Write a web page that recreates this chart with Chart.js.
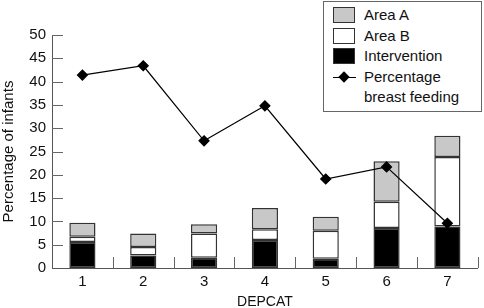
<!DOCTYPE html>
<html>
<head>
<meta charset="utf-8">
<script src="https://cdn.jsdelivr.net/npm/chart.js@4.4.0/dist/chart.umd.min.js"></script>
<style>
  body { margin: 0; background: #fff; }
  #wrap { position: relative; width: 484px; height: 308px; }
  #legend {
    position: absolute; left: 323px; top: 1px; width: 159px; height: 111px;
    box-sizing: border-box; border: 1px solid #666; background: #fff;
    font: 15px "Liberation Sans", Arial, sans-serif; color: #111;
    padding: 3px 0 0 9px; line-height: 20.5px;
  }
  .item { display: flex; align-items: flex-start; }
  .sw { width: 22px; height: 16px; box-sizing: border-box; border: 1.5px solid #333; margin: 2px 9px 0 0; flex: none; }
  .ln { width: 23px; height: 16px; margin: 2px 8px 0 0; flex: none; position: relative; }
  .ln:before { content: ""; position: absolute; left: 0; right: 0; top: 8px; border-top: 1px solid #000; }
  .ln:after { content: ""; position: absolute; left: 7px; top: 4px; width: 8px; height: 8px; background: #000; transform: rotate(45deg); }
  .txt { width: 118px; }
</style>
</head>
<body>
<div id="wrap">
  <canvas id="chart" width="484" height="308"></canvas>
  <div id="legend"></div>
</div>
<script>
// data
const categories = ['1', '2', '3', '4', '5', '6', '7'];
const intervention = [5.6, 2.7, 2.2, 6.0, 2.0, 8.6, 8.9];
const areaB = [1.1, 1.8, 5.2, 2.3, 6.0, 5.6, 14.9];
const areaA = [3.0, 2.9, 2.0, 4.6, 3.0, 8.7, 4.6];
const breastFeeding = [41.4, 43.4, 27.3, 34.8, 19.1, 21.7, 9.6];
const yTicks = [0, 5, 10, 15, 20, 25, 30, 35, 40, 45, 50];

const font = '"Liberation Sans", Arial, sans-serif';

// short ticks drawn inward, like the original
const innerTicks = {
  id: 'innerTicks',
  beforeDatasetsDraw(chart) {
    const ctx = chart.ctx, x = chart.scales.x, y = chart.scales.y;
    ctx.save();
    ctx.strokeStyle = '#666';
    ctx.lineWidth = 1;
    ctx.beginPath();
    yTicks.forEach(function (v) {
      if (v === 0) return;
      var py = Math.round(y.getPixelForValue(v)) + 0.5;
      ctx.moveTo(x.left, py);
      ctx.lineTo(x.left + 11, py);
    });
    var w = x.width / categories.length;
    for (var i = 1; i <= categories.length; i++) {
      var px = Math.min(Math.round(x.left + w * i) + 0.5, chart.width - 0.5);
      ctx.moveTo(px, y.bottom);
      ctx.lineTo(px, y.bottom - 11);
    }
    ctx.stroke();
    ctx.restore();
  }
};

var barStyle = { borderColor: '#333', borderWidth: 1.5, borderSkipped: false,
                 categoryPercentage: 1, barPercentage: 0.43, order: 1 };

var chart = new Chart(document.getElementById('chart'), {
  data: {
    labels: categories,
    datasets: [
      Object.assign({ type: 'bar', label: 'Intervention', data: intervention, backgroundColor: '#000' }, barStyle),
      Object.assign({ type: 'bar', label: 'Area B', data: areaB, backgroundColor: '#fff' }, barStyle),
      Object.assign({ type: 'bar', label: 'Area A', data: areaA, backgroundColor: '#c8c8c8' }, barStyle),
      {
        type: 'line', label: 'Percentage breast feeding', data: breastFeeding, stack: 'line',
        borderColor: '#000', borderWidth: 1.2, pointStyle: 'rectRot', pointRadius: 5,
        pointBackgroundColor: '#000', pointBorderColor: '#000', order: 0
      }
    ]
  },
  options: {
    responsive: false,
    animation: false,
    layout: { padding: { top: 35, right: 0 } },
    plugins: { legend: { display: false }, tooltip: { enabled: false } },
    scales: {
      x: {
        stacked: true,
        grid: { display: false, drawTicks: false },
        border: { display: true, color: '#555', width: 1 },
        ticks: { color: '#111', font: { family: font, size: 15 }, padding: 5 },
        title: { display: true, text: 'DEPCAT', color: '#111', font: { family: font, size: 14 }, padding: { top: 0, bottom: -3 } },
        afterFit: function (s) { s.height = 40; }
      },
      y: {
        stacked: true,
        min: 0, max: 50,
        grid: { display: false, drawTicks: false },
        border: { display: true, color: '#555', width: 1 },
        ticks: { stepSize: 5, color: '#111', font: { family: font, size: 15 }, padding: 6 },
        title: { display: true, text: 'Percentage of infants', color: '#111', font: { family: font, size: 15 }, padding: 0 },
        afterFit: function (s) { s.width = 52; }
      }
    }
  },
  plugins: [innerTicks]
});

// legend in the original's order
var legendItems = [
  { text: 'Area A', ds: 2 },
  { text: 'Area B', ds: 1 },
  { text: 'Intervention', ds: 0 },
  { text: 'Percentage breast feeding', ds: 3 }
];
var legend = document.getElementById('legend');
legendItems.forEach(function (it) {
  var ds = chart.data.datasets[it.ds];
  var row = document.createElement('div');
  row.className = 'item';
  var sw = document.createElement('div');
  if (ds.type === 'line') {
    sw.className = 'ln';
  } else {
    sw.className = 'sw';
    sw.style.background = ds.backgroundColor;
  }
  var t = document.createElement('div');
  t.className = 'txt';
  t.textContent = it.text;
  row.appendChild(sw);
  row.appendChild(t);
  legend.appendChild(row);
});
</script>
</body>
</html>
